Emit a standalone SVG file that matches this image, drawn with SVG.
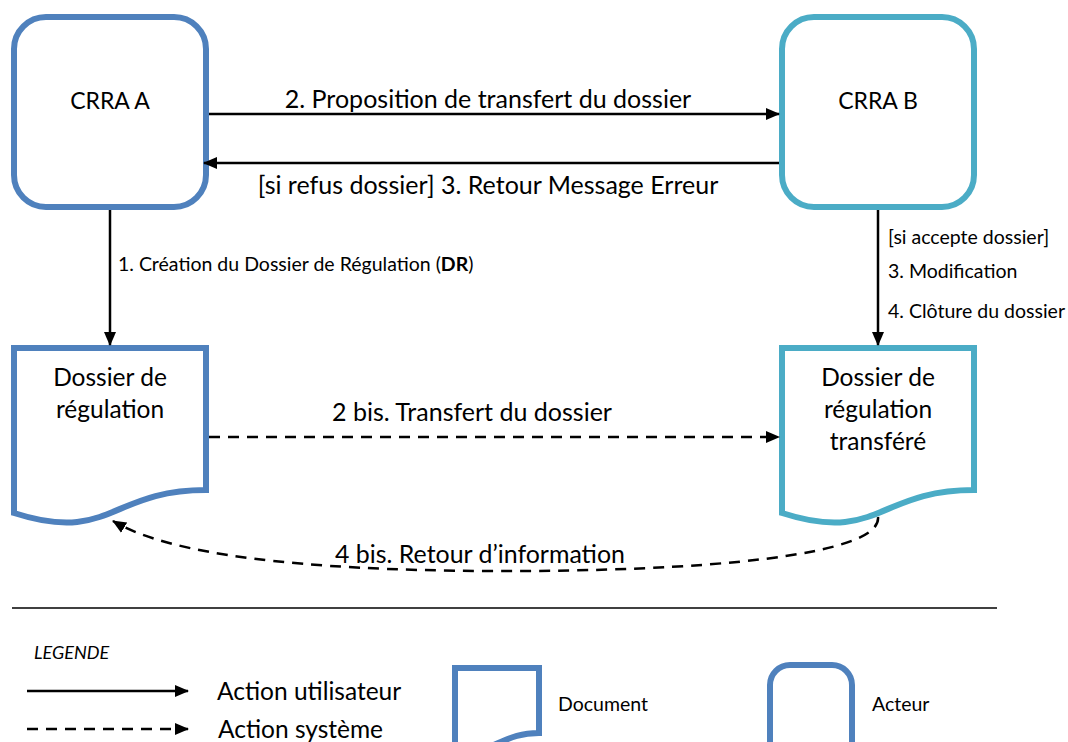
<svg xmlns="http://www.w3.org/2000/svg" width="1068" height="742" viewBox="0 0 1068 742">
  <style>
    text { font-family: Lato, "Open Sans", "Liberation Sans", sans-serif; fill: #000; }
    .name { font-size: 23px; }
    .doc { font-size: 24.5px; }
    .label { font-size: 25px; }
    .small { font-size: 19.5px; }
    .actorA { fill: #fff; stroke: #4F81BD; stroke-width: 6; }
    .actorB { fill: #fff; stroke: #4BACC6; stroke-width: 6; }
    .solid { fill: none; stroke: #000; stroke-width: 2.5; }
    .dash { fill: none; stroke: #000; stroke-width: 2.5; stroke-dasharray: 11 8; }
  </style>
  <defs>
    <marker id="head" markerUnits="userSpaceOnUse" markerWidth="14" markerHeight="14" viewBox="0 0 14 14" refX="13" refY="7" orient="auto">
      <path d="M0,1 L14,7 L0,13 Z" fill="#000"/>
    </marker>
  </defs>

  <!-- actors -->
  <g id="crra-a">
    <rect class="actorA" x="14" y="17" width="192" height="190" rx="32" ry="32"/>
    <text class="name" x="110" y="109" text-anchor="middle">CRRA A</text>
  </g>
  <g id="crra-b">
    <rect class="actorB" x="782" y="17" width="192" height="190" rx="32" ry="32"/>
    <text class="name" x="878" y="109" text-anchor="middle">CRRA B</text>
  </g>

  <!-- documents -->
  <g id="dossier-a">
    <path class="actorA" d="M14,348 H206 V490 C110,490 110,544 14,513 Z"/>
    <text class="doc" x="110" y="386" text-anchor="middle">Dossier de</text>
    <text class="doc" x="110" y="418" text-anchor="middle">régulation</text>
  </g>
  <g id="dossier-b">
    <path class="actorB" d="M782,348 H974 V490 C878,490 878,544 782,513 Z"/>
    <text class="doc" x="878" y="386" text-anchor="middle">Dossier de</text>
    <text class="doc" x="878" y="418" text-anchor="middle">régulation</text>
    <text class="doc" x="878" y="450" text-anchor="middle">transféré</text>
  </g>

  <!-- connectors -->
  <g id="connectors">
    <line class="solid" x1="209" y1="114" x2="779" y2="114" marker-end="url(#head)"/>
    <line class="solid" x1="779" y1="163" x2="204" y2="163" marker-end="url(#head)"/>
    <line class="solid" x1="110" y1="210" x2="110" y2="345" marker-end="url(#head)"/>
    <line class="solid" x1="878" y1="210" x2="878" y2="345" marker-end="url(#head)"/>
    <line class="dash" x1="209" y1="437" x2="779" y2="437" marker-end="url(#head)"/>
    <path class="dash" d="M878,517 C882,556 700,572 487,571 C300,570 170,555 113,521" marker-end="url(#head)"/>

    <text class="label" x="488" y="108" text-anchor="middle">2. Proposition de transfert du dossier</text>
    <text class="label" x="488" y="194" text-anchor="middle">[si refus dossier] 3. Retour Message Erreur</text>
    <text class="small" x="118" y="271">1. Création du Dossier de Régulation (<tspan font-weight="bold">DR</tspan>)</text>
    <text class="small" x="888" y="244">[si accepte dossier]</text>
    <text class="small" x="888" y="278">3. Modification</text>
    <text class="small" x="888" y="318">4. Clôture du dossier</text>
    <text class="label" x="472" y="421" text-anchor="middle">2 bis. Transfert du dossier</text>
    <text class="label" x="480" y="563" text-anchor="middle" textLength="290" lengthAdjust="spacingAndGlyphs">4 bis. Retour d’information</text>
  </g>

  <!-- separator -->
  <line x1="12" y1="608" x2="997" y2="608" stroke="#000" stroke-width="1.5"/>

  <!-- legend -->
  <g id="legend">
    <text x="34" y="659" font-size="18" font-style="italic">LEGENDE</text>
    <line class="solid" x1="27" y1="691" x2="188" y2="691" marker-end="url(#head)"/>
    <text x="217" y="700" font-size="24.5">Action utilisateur</text>
    <line class="dash" x1="27" y1="729" x2="188" y2="729" marker-end="url(#head)"/>
    <text x="218" y="738" font-size="24.5">Action système</text>
    <path class="actorA" d="M455,668 H539 V733 C497,733 497,758 455,744 Z"/>
    <text class="small" x="558" y="711">Document</text>
    <rect class="actorA" x="770" y="665" width="82" height="100" rx="20" ry="20"/>
    <text class="small" x="872" y="711">Acteur</text>
  </g>
</svg>
